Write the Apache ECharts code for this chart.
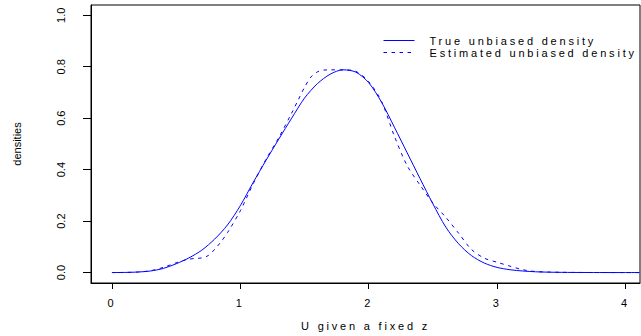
<!DOCTYPE html>
<html>
<head>
<meta charset="utf-8">
<script src="https://cdn.jsdelivr.net/npm/echarts@6/dist/echarts.min.js"></script>
<style>
  html, body { margin: 0; padding: 0; background: #fff; }
  #chart { width: 641px; height: 336px; }
</style>
</head>
<body>
<div id="chart"></div>
<script>
// True and estimated unbiased densities of U for a fixed z
const trueX = [0, 0.1, 0.2, 0.3, 0.4, 0.5, 0.6, 0.7, 0.8, 0.9, 1.0, 1.1, 1.2, 1.3, 1.4, 1.5, 1.6, 1.7, 1.8, 1.9,
  2.0, 2.1, 2.2, 2.3, 2.4, 2.5, 2.6, 2.7, 2.8, 2.9, 3.0, 3.1, 3.2, 3.3, 3.4, 3.5, 3.6, 3.8, 4.0, 4.11];
const trueY = [0, 0.0005, 0.002, 0.006, 0.016, 0.034, 0.057, 0.087, 0.13, 0.185, 0.26, 0.35, 0.436, 0.519, 0.60,
  0.678, 0.734, 0.771, 0.788, 0.779, 0.738, 0.662, 0.565, 0.465, 0.365, 0.267, 0.177, 0.112, 0.066, 0.037,
  0.020, 0.011, 0.006, 0.003, 0.0015, 0.0008, 0.0004, 0.0001, 0, 0];

const estX = [0, 0.1, 0.2, 0.3, 0.4, 0.5, 0.55, 0.6, 0.65, 0.7, 0.75, 0.8, 0.85, 0.9, 1.0, 1.1, 1.2, 1.3, 1.4,
  1.45, 1.5, 1.55, 1.6, 1.65, 1.7, 1.8, 1.9, 2.0, 2.1, 2.2, 2.3, 2.4, 2.5, 2.6, 2.7, 2.8, 2.9, 3.0, 3.1, 3.2,
  3.3, 3.4, 3.5, 3.6, 3.8, 4.0, 4.11];
const estY = [0, 0.0005, 0.002, 0.007, 0.02, 0.038, 0.046, 0.052, 0.055, 0.057, 0.066, 0.09, 0.12, 0.155, 0.24,
  0.345, 0.44, 0.525, 0.62, 0.67, 0.72, 0.76, 0.78, 0.787, 0.788, 0.788, 0.782, 0.742, 0.665, 0.53, 0.415,
  0.34, 0.27, 0.215, 0.153, 0.09, 0.056, 0.04, 0.025, 0.011, 0.004, 0.002, 0.001, 0.0005, 0.0001, 0, 0];

const xTicks = [0, 1, 2, 3, 4];
const yTicks = [0, 0.2, 0.4, 0.6, 0.8, 1.0];

const seriesNames = ['True unbiased density', 'Estimated unbiased density'];
const xTitle = 'U given a fixed z';
const yTitle = 'densities';

const pairs = (xs, ys) => xs.map((x, i) => [x, ys[i]]);

const font = '"Liberation Sans", Arial, Helvetica, sans-serif';
const chart = echarts.init(document.getElementById('chart'), null, { renderer: 'svg' });

chart.setOption({
  animation: false,
  backgroundColor: '#fff',
  textStyle: { fontFamily: font },
  grid: {
    left: 91, top: 5, width: 549, height: 280,
    show: true, borderColor: '#000', borderWidth: 1, backgroundColor: 'transparent'
  },
  legend: {
    orient: 'vertical',
    left: 383, top: 35,
    padding: 0,
    itemGap: 1,
    itemWidth: 31,
    itemHeight: 10,
    selectedMode: false,
    itemStyle: { opacity: 0 },
    lineStyle: { width: 1 },
    textStyle: { fontSize: 11, color: '#000', fontFamily: font, padding: [0, 0, 0, 10] },
    data: seriesNames
  },
  xAxis: {
    type: 'value',
    min: -0.163, max: 4.113,
    name: xTitle,
    nameLocation: 'middle',
    nameGap: 37,
    nameTextStyle: { fontSize: 11, color: '#000', fontFamily: font },
    axisLine: { show: true, onZero: false, lineStyle: { color: '#000', width: 1 } },
    axisTick: { show: true, inside: false, length: 6, customValues: xTicks, lineStyle: { color: '#000' } },
    axisLabel: { customValues: xTicks, margin: 14, fontSize: 11, color: '#000', fontFamily: font },
    splitLine: { show: false }
  },
  yAxis: {
    type: 'value',
    min: -0.0406, max: 1.040,
    name: yTitle,
    nameLocation: 'middle',
    nameRotate: 90,
    nameGap: 69,
    nameTextStyle: { fontSize: 11, color: '#000', fontFamily: font },
    axisLine: { show: true, onZero: false, lineStyle: { color: '#000', width: 1 } },
    axisTick: { show: true, inside: false, length: 8, customValues: yTicks, lineStyle: { color: '#000' } },
    axisLabel: {
      customValues: yTicks, rotate: 90, margin: 25, fontSize: 11, color: '#000', fontFamily: font,
      formatter: v => v.toFixed(1)
    },
    splitLine: { show: false }
  },
  series: [
    {
      name: seriesNames[0],
      type: 'line',
      data: pairs(trueX, trueY),
      showSymbol: false,
      symbol: 'none',
      smooth: 0.3,
      lineStyle: { color: '#0000ff', width: 1, type: 'solid' },
      itemStyle: { color: '#0000ff' }
    },
    {
      name: seriesNames[1],
      type: 'line',
      data: pairs(estX, estY),
      showSymbol: false,
      symbol: 'none',
      smooth: 0.3,
      lineStyle: { color: '#0000ff', width: 1, type: [3.5, 4.5] },
      itemStyle: { color: '#0000ff' }
    }
  ]
});

// Horizontal texts are set wide, as in the R device output
function widenText() {
  document.querySelectorAll('#chart svg text').forEach(el => {
    const t = el.getAttribute('transform') || '';
    const m = t.match(/matrix\(\s*([-\d.e]+)/);
    if (m && Math.abs(parseFloat(m[1])) < 0.5) return;
    el.style.letterSpacing = '2.8px';
  });
}
chart.on('finished', widenText);
widenText();
</script>
</body>
</html>
